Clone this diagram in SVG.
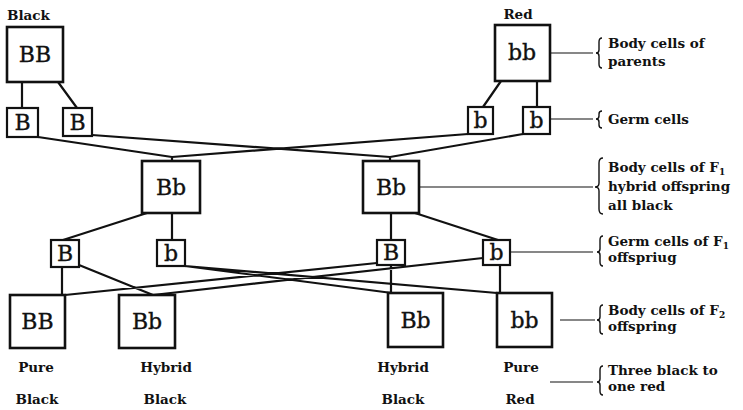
<svg xmlns="http://www.w3.org/2000/svg" width="743" height="410" viewBox="0 0 743 410">
<style>
.box{fill:#fff;stroke:#111;stroke-width:2.6}
.g{fill:#fff;stroke:#111;stroke-width:2.2}
.t{font-family:"DejaVu Serif","Liberation Serif",serif;font-size:22px;fill:#111;stroke:#111;stroke-width:0.35;text-anchor:middle}
.lb{font-family:"DejaVu Serif","Liberation Serif",serif;font-size:13.5px;font-weight:bold;fill:#111}
.c{text-anchor:middle}
.ln{stroke:#111;stroke-width:2.2;fill:none;stroke-linecap:round}
.th{stroke:#111;stroke-width:1.2;fill:none}
.br{stroke:#111;stroke-width:1.4;fill:none}
.sub{font-size:9px}
</style>
<rect width="743" height="410" fill="#fff"/>
<g id="connectors">
<path class="ln" d="M22,82 V108 M58,82 L77,108 M501,81 L483,107 M537,81 V107"/>
<path class="ln" d="M38,137 L172,157 M92,135 L390,157 M468,134 L172,157 M523,134 L390,157 M172,157 V161 M390,157 V161"/>
<path class="ln" d="M147,213 L63,240 M172,213 V240 M391,213 V240 M415,213 L498,240"/>
<path class="ln" d="M62,267 V295 M79,265 L153,295 M377,263 L65,295 M483,258 L153,295 M185,266 L392,293 M185,266 L497,293 M391,265 V293 M500,265 V293"/>
</g>
<g id="label-lines">
<path class="th" d="M550,53 H593 M550,119 H593 M419,187 H593 M510,252 H593 M560,320 H595 M550,382 H593"/>
<path class="br" d="M602,38 Q599,38 599,42 L599,50 Q599,53 596,53 Q599,53 599,56 L599,64 Q599,68 602,68"/>
<path class="br" d="M602,111 Q599,111 599,114 L599,116 Q599,119 596,119 Q599,119 599,122 L599,125 Q599,128 602,128"/>
<path class="br" d="M603,158 Q599,158 599,163 L599,183 Q599,187 595,187 Q599,187 599,191 L599,209 Q599,214 603,214"/>
<path class="br" d="M603,236 Q600,236 600,240 L600,249 Q600,252 597,252 Q600,252 600,255 L600,262 Q600,266 603,266"/>
<path class="br" d="M603,305 Q600,305 600,309 L600,317 Q600,320 597,320 Q600,320 600,323 L600,331 Q600,334 603,334"/>
<path class="br" d="M603,366 Q600,366 600,370 L600,379 Q600,382 597,382 Q600,382 600,385 L600,391 Q600,395 603,395"/>
</g>
<g id="parent-black"><text class="lb" x="7" y="20">Black</text><rect class="box" x="7" y="27" width="56" height="55"/><text class="t" x="35" y="62">BB</text></g>
<g id="parent-red"><text class="lb c" x="518" y="19">Red</text><rect class="box" x="495" y="25" width="55" height="56"/><text class="t" x="522" y="60">bb</text></g>
<g id="germ-B1"><rect class="g" x="7" y="108" width="31" height="29"/><text class="t" x="22.5" y="130">B</text></g>
<g id="germ-B2"><rect class="g" x="63" y="108" width="29" height="28"/><text class="t" x="77.5" y="130">B</text></g>
<g id="germ-b1"><rect class="g" x="468" y="107" width="25" height="27"/><text class="t" x="480.5" y="128">b</text></g>
<g id="germ-b2"><rect class="g" x="523" y="107" width="27" height="27"/><text class="t" x="536.5" y="128">b</text></g>
<g id="f1-left"><rect class="box" x="142" y="161" width="58" height="52"/><text class="t" x="171" y="195">Bb</text></g>
<g id="f1-right"><rect class="box" x="363" y="161" width="56" height="52"/><text class="t" x="391" y="195">Bb</text></g>
<g id="f1germ-B1"><rect class="g" x="51" y="240" width="28" height="27"/><text class="t" x="65" y="261">B</text></g>
<g id="f1germ-b1"><rect class="g" x="157" y="240" width="28" height="26"/><text class="t" x="171" y="261">b</text></g>
<g id="f1germ-B2"><rect class="g" x="377" y="240" width="28" height="25"/><text class="t" x="391" y="260">B</text></g>
<g id="f1germ-b2"><rect class="g" x="483" y="240" width="27" height="25"/><text class="t" x="496.5" y="260">b</text></g>
<g id="f2-BB"><rect class="box" x="10" y="295" width="55" height="53"/><text class="t" x="37.5" y="329">BB</text><text class="lb c" x="36" y="372">Pure</text><text class="lb c" x="37" y="404">Black</text></g>
<g id="f2-Bb1"><rect class="box" x="119" y="295" width="56" height="53"/><text class="t" x="147" y="329">Bb</text><text class="lb c" x="166" y="372">Hybrid</text><text class="lb c" x="165" y="404">Black</text></g>
<g id="f2-Bb2"><rect class="box" x="388" y="293" width="55" height="54"/><text class="t" x="415.5" y="328">Bb</text><text class="lb c" x="403" y="372">Hybrid</text><text class="lb c" x="403" y="404">Black</text></g>
<g id="f2-bb"><rect class="box" x="497" y="293" width="55" height="54"/><text class="t" x="524.5" y="328">bb</text><text class="lb c" x="521" y="372">Pure</text><text class="lb c" x="520" y="404">Red</text></g>
<g id="labels">
<text class="lb" x="608" y="48">Body cells of</text>
<text class="lb" x="608" y="66">parents</text>
<text class="lb" x="608" y="124">Germ cells</text>
<text class="lb" x="608" y="172">Body cells of F<tspan class="sub" dy="3">1</tspan></text>
<text class="lb" x="608" y="191">hybrid offspring</text>
<text class="lb" x="608" y="210">all black</text>
<text class="lb" x="608" y="246">Germ cells of F<tspan class="sub" dy="3">1</tspan></text>
<text class="lb" x="608" y="262">offspriug</text>
<text class="lb" x="608" y="315">Body cells of F<tspan class="sub" dy="3">2</tspan></text>
<text class="lb" x="608" y="331">offspring</text>
<text class="lb" x="608" y="375">Three black to</text>
<text class="lb" x="608" y="391">one red</text>
</g>
</svg>
